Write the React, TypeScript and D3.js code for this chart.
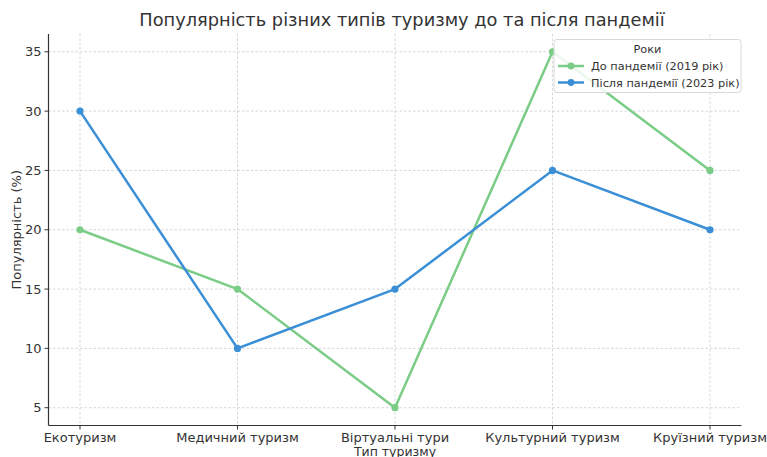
import React from "react";
import * as d3 from "d3";

const W = 767;
const H = 457;

const CATEGORIES = ["Екотуризм", "Медичний туризм", "Віртуальні тури", "Культурний туризм", "Круїзний туризм"];
const BEFORE = [20, 15, 5, 35, 25];
const AFTER = [30, 10, 15, 25, 20];
const Y_TICKS = [5, 10, 15, 20, 25, 30, 35];

const SERIES = [
  { name: "До пандемії (2019 рік)", values: BEFORE, color: "#7acc86" },
  { name: "Після пандемії (2023 рік)", values: AFTER, color: "#3b8fd6" },
];

const FONT = "DejaVu Sans, sans-serif";

export default function App() {
  const left = 48.5;
  const right = 741.5;
  const top = 34;
  const bottom = 425.5;

  const x = d3.scaleLinear().domain([-0.2, CATEGORIES.length - 1 + 0.2]).range([left, right]);
  const y = d3.scaleLinear().domain([3.5, 36.5]).range([bottom, top]);

  const line = d3
    .line<number>()
    .x((_, i) => x(i))
    .y((d) => y(d));

  return (
    <svg width={W} height={H} style={{ display: "block", position: "absolute", left: 0, top: 0, background: "#fff" }}>
      <text x={402} y={26} textAnchor="middle" fontFamily={FONT} fontSize={17.8} fill="#333">
        Популярність різних типів туризму до та після пандемії
      </text>

      {/* grid */}
      {CATEGORIES.map((_, i) => (
        <line key={"gx" + i} x1={x(i)} x2={x(i)} y1={top} y2={bottom} stroke="#c8cdd2" strokeWidth={0.8} strokeDasharray="2.5,2" />
      ))}
      {Y_TICKS.map((t) => (
        <line key={"gy" + t} x1={left} x2={right} y1={y(t)} y2={y(t)} stroke="#c8cdd2" strokeWidth={0.8} strokeDasharray="2.5,2" />
      ))}

      {/* spines */}
      <line x1={left} x2={left} y1={top} y2={bottom} stroke="#333" strokeWidth={1.2} />
      <line x1={left} x2={right} y1={bottom} y2={bottom} stroke="#333" strokeWidth={1.2} />

      {/* y ticks */}
      {Y_TICKS.map((t) => (
        <g key={"ty" + t}>
          <line x1={left - 4} x2={left} y1={y(t)} y2={y(t)} stroke="#333" strokeWidth={1} />
          <text x={left - 7} y={y(t) + 4.5} textAnchor="end" fontFamily={FONT} fontSize={13} fill="#333">
            {t}
          </text>
        </g>
      ))}

      {/* x ticks */}
      {CATEGORIES.map((c, i) => (
        <g key={"tx" + i}>
          <line x1={x(i)} x2={x(i)} y1={bottom} y2={bottom + 4} stroke="#333" strokeWidth={1} />
          <text x={x(i)} y={bottom + 16} textAnchor="middle" fontFamily={FONT} fontSize={13} fill="#333">
            {c}
          </text>
        </g>
      ))}

      <text x={x(2)} y={455.5} textAnchor="middle" fontFamily={FONT} fontSize={12.5} fill="#333">
        Тип туризму
      </text>
      <text
        transform={`translate(21, ${(top + bottom) / 2}) rotate(-90)`}
        textAnchor="middle"
        fontFamily={FONT}
        fontSize={13}
        fill="#333"
      >
        Популярність (%)
      </text>

      {/* series */}
      {SERIES.map((s) => (
        <g key={s.name}>
          <path d={line(s.values) || ""} fill="none" stroke={s.color} strokeWidth={2.5} strokeLinejoin="round" />
          {s.values.map((v, i) => (
            <circle key={i} cx={x(i)} cy={y(v)} r={3.6} fill={s.color} />
          ))}
        </g>
      ))}

      {/* legend */}
      <g>
        <rect x={554} y={39.5} width={187} height={53} rx={3} fill="#fff" fillOpacity={0.85} stroke="#d8d8d8" strokeWidth={1} />
        <text x={647.5} y={53} textAnchor="middle" fontFamily={FONT} fontSize={11.3} fill="#333">
          Роки
        </text>
        {SERIES.map((s, i) => {
          const ly = 66 + i * 16.5;
          return (
            <g key={"lg" + i}>
              <line x1={558} x2={584} y1={ly} y2={ly} stroke={s.color} strokeWidth={2.5} />
              <circle cx={571} cy={ly} r={3.4} fill={s.color} />
              <text x={591} y={ly + 4} fontFamily={FONT} fontSize={11.3} fill="#333">
                {s.name}
              </text>
            </g>
          );
        })}
      </g>
    </svg>
  );
}
